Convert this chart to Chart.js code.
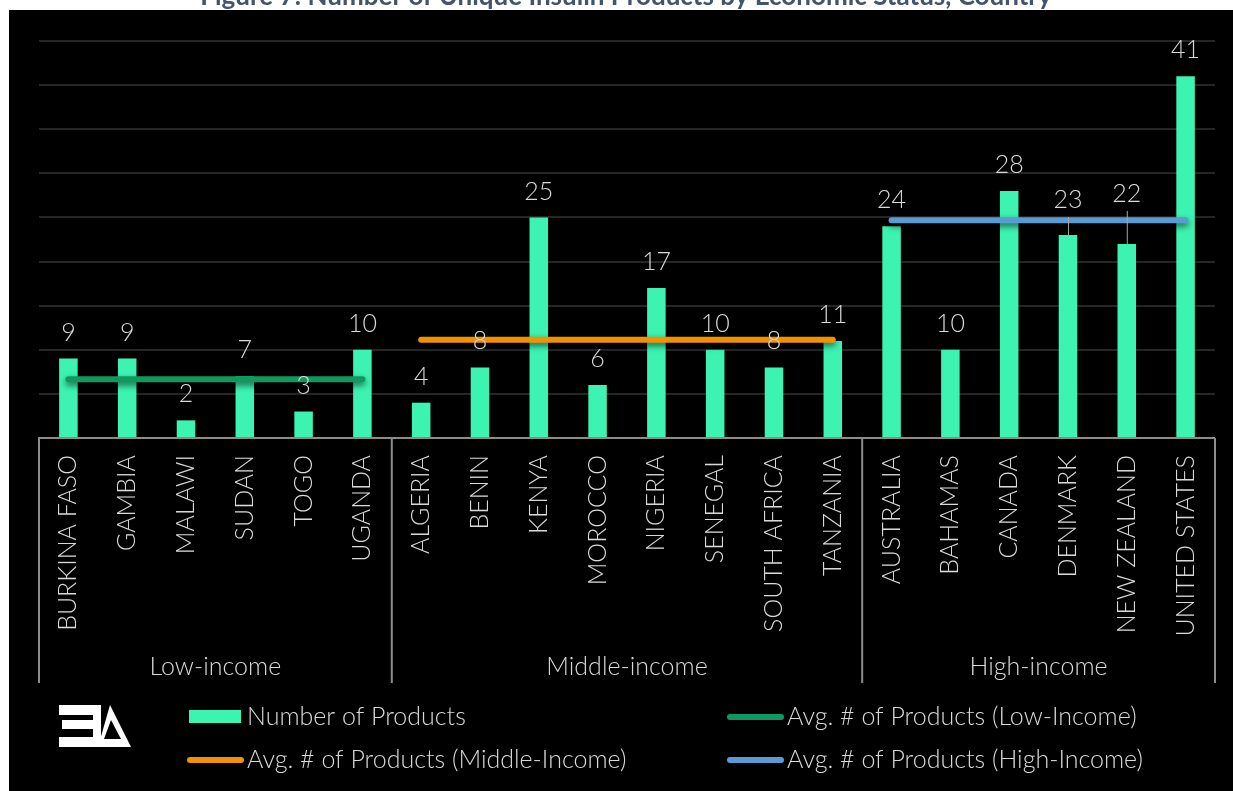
<!DOCTYPE html>
<html>
<head>
  <script src="https://cdn.jsdelivr.net/npm/chart.js@4"></script>
  <style>
    body { margin: 0; background: #ffffff; }
    canvas { display: block; }
  </style>
</head>
<body>
  <canvas id="wykres" width="1233" height="791"></canvas>
  <script>
// kraje i liczba produktow insuliny
const countries = ['BURKINA FASO', 'GAMBIA', 'MALAWI', 'SUDAN', 'TOGO', 'UGANDA',
  'ALGERIA', 'BENIN', 'KENYA', 'MOROCCO', 'NIGERIA', 'SENEGAL', 'SOUTH AFRICA', 'TANZANIA',
  'AUSTRALIA', 'BAHAMAS', 'CANADA', 'DENMARK', 'NEW ZEALAND', 'UNITED STATES'];
const products = [9, 9, 2, 7, 3, 10,
  4, 8, 25, 6, 17, 10, 8, 11,
  24, 10, 28, 23, 22, 41];

// grupy dochodowe: nazwa, pierwszy i ostatni indeks kraju
const groupNames = ['Low-income', 'Middle-income', 'High-income'];
const groupStart = [0, 6, 14];
const groupEnd = [5, 13, 19];
const groupAverages = [6.67, 11.13, 24.67];

const yTicksMax = 45;
const yTickStep = 5;

const avgLabels = ['Avg. # of Products (Low-Income)', 'Avg. # of Products (Middle-Income)', 'Avg. # of Products (High-Income)'];
const avgColors = ['#10995f', '#f39200', '#5b9bd5'];

const textColor = '#d9d9d9';
const fontFamily = 'Lato, "Noto Sans", sans-serif';
const textFont = '300 25px ' + fontFamily;

function avgSeries(g) {
  return countries.map((c, i) => (i >= groupStart[g] && i <= groupEnd[g]) ? groupAverages[g] : null);
}

const datasets = [{
  type: 'bar',
  label: 'Number of Products',
  data: products,
  backgroundColor: '#3cf3b1',
  categoryPercentage: 1,
  barPercentage: 0.315,
  order: 2
}];
groupNames.forEach((g, k) => {
  datasets.push({
    type: 'line',
    label: avgLabels[k],
    data: avgSeries(k),
    borderColor: avgColors[k],
    backgroundColor: avgColors[k],
    borderWidth: 6,
    borderCapStyle: 'round',
    pointRadius: 0,
    spanGaps: false,
    order: 1
  });
});

// tlo, tytul, logo
const tloPlugin = {
  id: 'tlo',
  beforeDraw(chart) {
    const ctx = chart.ctx;
    ctx.save();
    ctx.fillStyle = '#44546a';
    ctx.font = 'bold 26px ' + fontFamily;
    ctx.textAlign = 'center';
    ctx.textBaseline = 'alphabetic';
    ctx.fillText('Figure 7: Number of Unique Insulin Products by Economic Status, Country', 626, 5);
    ctx.fillStyle = '#000000';
    ctx.fillRect(9, 10, chart.width - 9, chart.height - 10);
    ctx.restore();
  },
  afterDraw(chart) {
    const ctx = chart.ctx;
    ctx.save();
    ctx.fillStyle = '#ffffff';
    // odwrocone E
    ctx.fillRect(59, 705, 42, 10);
    ctx.fillRect(62, 720, 39, 9);
    ctx.fillRect(59, 737, 42, 10);
    ctx.fillRect(93, 705, 8, 42);
    // trojkat
    ctx.beginPath();
    ctx.moveTo(110, 705);
    ctx.lineTo(131, 747);
    ctx.lineTo(98, 747);
    ctx.closePath();
    ctx.moveTo(111, 720);
    ctx.lineTo(104, 739);
    ctx.lineTo(121, 739);
    ctx.closePath();
    ctx.fill('evenodd');
    ctx.restore();
  }
};

// cien pod liniami srednich
const cienPlugin = {
  id: 'cien',
  beforeDatasetDraw(chart, args) {
    if (args.meta.type !== 'line') return;
    const ctx = chart.ctx;
    ctx.save();
    ctx.shadowColor = 'rgba(0,0,0,0.6)';
    ctx.shadowBlur = 6;
    ctx.shadowOffsetY = 3;
  },
  afterDatasetDraw(chart, args) {
    if (args.meta.type !== 'line') return;
    chart.ctx.restore();
  }
};

// etykiety wartosci nad slupkami
const etykietyPlugin = {
  id: 'etykiety',
  afterDraw(chart, args, opts) {
    const ctx = chart.ctx;
    const meta = chart.getDatasetMeta(0);
    ctx.save();
    ctx.font = textFont;
    ctx.fillStyle = textColor;
    ctx.textAlign = 'center';
    ctx.textBaseline = 'middle';
    meta.data.forEach((bar, i) => {
      const lift = opts.lift[i] || 0;
      const y = bar.y - 26 - lift;
      ctx.fillText(String(products[i]), bar.x, y);
      if (lift) {
        ctx.strokeStyle = '#a6a6a6';
        ctx.lineWidth = 1;
        ctx.beginPath();
        ctx.moveTo(bar.x + 0.5, y + 17);
        ctx.lineTo(bar.x + 0.5, bar.y);
        ctx.stroke();
      }
    });
    ctx.restore();
  }
};

// podzial osi X na grupy dochodowe
const grupyPlugin = {
  id: 'grupy',
  afterDraw(chart) {
    const ctx = chart.ctx;
    const x = chart.scales.x;
    const top = chart.chartArea.bottom;
    ctx.save();
    ctx.strokeStyle = '#8c8c8c';
    ctx.lineWidth = 2;
    const edges = groupStart.map(s => x.getPixelForValue(s - 0.5));
    edges.push(x.getPixelForValue(groupEnd[groupEnd.length - 1] + 0.5));
    edges.forEach(px => {
      ctx.beginPath();
      ctx.moveTo(px, top);
      ctx.lineTo(px, 683);
      ctx.stroke();
    });
    ctx.font = textFont;
    ctx.fillStyle = textColor;
    ctx.textAlign = 'center';
    ctx.textBaseline = 'middle';
    groupNames.forEach((g, k) => {
      ctx.fillText(g, (edges[k] + edges[k + 1]) / 2, 667);
    });
    ctx.restore();
  }
};

// legenda w dwoch kolumnach
const legendaPlugin = {
  id: 'legenda',
  afterDraw(chart) {
    const ctx = chart.ctx;
    const colX = [189, 729];
    const rowY = [717, 760];
    ctx.save();
    ctx.font = textFont;
    ctx.textBaseline = 'middle';
    ctx.textAlign = 'left';
    chart.data.datasets.forEach((ds, i) => {
      const cx = colX[i % 2];
      const cy = rowY[Math.floor(i / 2)];
      if (ds.type === 'bar') {
        ctx.fillStyle = ds.backgroundColor;
        ctx.fillRect(cx, cy - 7, 52, 13);
      } else {
        ctx.strokeStyle = ds.borderColor;
        ctx.lineWidth = 6;
        ctx.lineCap = 'round';
        ctx.beginPath();
        ctx.moveTo(cx + 1, cy);
        ctx.lineTo(cx + 52, cy);
        ctx.stroke();
      }
      ctx.fillStyle = textColor;
      ctx.fillText(ds.label, cx + 58, cy);
    });
    ctx.restore();
  }
};

document.fonts.load(textFont).then(() => {
  const ctx = document.getElementById('wykres');
  new Chart(ctx, {
    data: {
      labels: countries,
      datasets: datasets
    },
    options: {
      responsive: false,
      animation: false,
      layout: { padding: { left: 39, right: 17, top: 41, bottom: 0 } },
      plugins: {
        legend: { display: false },
        tooltip: { enabled: false },
        etykiety: { lift: { 17: 9, 18: 24 } }
      },
      scales: {
        x: {
          grid: { display: false, drawTicks: false },
          border: { color: '#8c8c8c', width: 2 },
          ticks: {
            color: textColor,
            font: { family: fontFamily, size: 25, weight: 300 },
            minRotation: 90,
            maxRotation: 90,
            autoSkip: false,
            padding: 17
          },
          afterFit(scale) { scale.height = 353; }
        },
        y: {
          min: 0,
          max: yTicksMax,
          ticks: { display: false, stepSize: yTickStep },
          grid: { color: '#262626', lineWidth: 2, drawTicks: false },
          border: { display: false },
          afterFit(scale) { scale.width = 0; }
        }
      }
    },
    plugins: [tloPlugin, cienPlugin, etykietyPlugin, grupyPlugin, legendaPlugin]
  });
});
  </script>
</body>
</html>
